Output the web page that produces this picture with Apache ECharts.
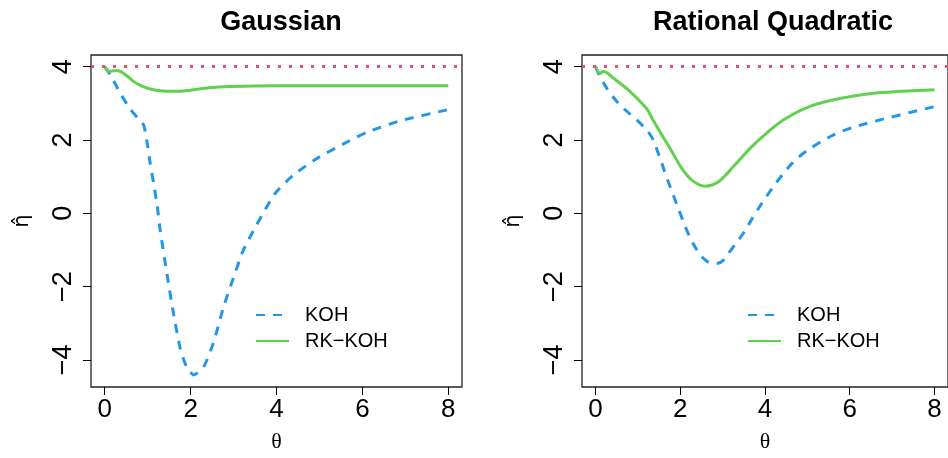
<!DOCTYPE html>
<html>
<head>
<meta charset="utf-8">
<script src="https://cdn.jsdelivr.net/npm/echarts@6/dist/echarts.min.js"></script>
<style>
  html, body { margin: 0; padding: 0; background: #fff; }
  #chart { width: 948px; height: 458px; }
</style>
</head>
<body>
<div id="chart"></div>
<script>
// panel titles and tick values
var titles = ['Gaussian', 'Rational Quadratic']
var xTicks = [0, 2, 4, 6, 8]
var yTicks = [-4, -2, 0, 2, 4]
var refLine = 4

// Gaussian panel, KOH (dashed blue)
var gaussKohX = [0, 0.13, 0.36, 0.6, 0.83, 0.91, 0.98, 1.06, 1.14, 1.22, 1.29, 1.45, 1.6, 1.76, 1.91, 2.07, 2.3, 2.53, 2.76, 3.0, 3.23, 3.54, 3.81, 4.0, 4.39, 4.93, 5.55, 6.1, 6.87, 8]
var gaussKohY = [4, 3.78, 3.28, 2.83, 2.52, 2.4, 1.98, 1.35, 0.8, 0.23, -0.45, -1.66, -2.73, -3.7, -4.2, -4.41, -4.2, -3.54, -2.58, -1.75, -1.0, -0.31, 0.25, 0.59, 1.04, 1.49, 1.89, 2.21, 2.52, 2.83]
// Gaussian panel, RK-KOH (solid green)
var gaussRkX = [0, 0.09, 0.2, 0.29, 0.4, 0.55, 0.67, 0.82, 0.98, 1.2, 1.45, 1.76, 2.0, 2.38, 2.92, 4.08, 5, 6, 7, 8]
var gaussRkY = [4, 3.87, 3.89, 3.9, 3.85, 3.72, 3.6, 3.5, 3.42, 3.36, 3.33, 3.33, 3.36, 3.42, 3.46, 3.48, 3.48, 3.48, 3.48, 3.48]

// Rational quadratic panel, KOH
var ratKohX = [0, 0.07, 0.3, 0.61, 1.0, 1.31, 1.5, 1.66, 1.85, 2.01, 2.2, 2.43, 2.62, 2.78, 2.95, 3.21, 3.52, 3.75, 4.06, 4.37, 4.75, 5.3, 5.84, 6.62, 8]
var ratKohY = [4, 3.82, 3.35, 2.92, 2.52, 2.11, 1.58, 1.04, 0.45, -0.04, -0.58, -1.07, -1.3, -1.37, -1.34, -0.98, -0.49, -0.04, 0.5, 0.99, 1.49, 1.94, 2.25, 2.52, 2.91]
// Rational quadratic panel, RK-KOH
var ratRkX = [0, 0.11, 0.19, 0.42, 0.81, 1.19, 1.27, 1.35, 1.58, 1.81, 2.04, 2.28, 2.59, 2.9, 3.28, 3.67, 4.06, 4.45, 5.06, 5.84, 6.62, 8]
var ratRkY = [4, 3.82, 3.87, 3.69, 3.33, 2.88, 2.74, 2.56, 2.11, 1.67, 1.22, 0.9, 0.74, 0.86, 1.31, 1.8, 2.21, 2.56, 2.92, 3.15, 3.28, 3.37]

var names = ['KOH', 'RK\u2212KOH']
var blue = '#2297E6'
var green = '#61D04F'
var red = '#DF536B'
var font = 'Liberation Sans, Arial, sans-serif'

const zip = (xs, ys) => xs.map((x, i) => [x, ys[i]])
const minus = v => v < 0 ? '\u2212' + Math.abs(v) : String(v)

var gridLeft = [91, 582]
var legendLeft = [250, 742]
var titleCenter = [276, 768]

var grids = [], xAxes = [], yAxes = [], series = [], legends = [], titleList = []

for (let i = 0; i < 2; i++) {
  grids.push({
    left: gridLeft[i], top: 55, width: i === 0 ? 371 : 369, height: 337,
    show: true, borderColor: '#222', borderWidth: 1.3, backgroundColor: 'transparent'
  })
  xAxes.push({
    type: 'value', gridIndex: i, min: -0.32, max: 8.32,
    name: '\u03b8', nameLocation: 'middle', nameGap: 44,
    nameTextStyle: { fontFamily: 'Liberation Serif, serif', fontSize: 22, color: '#000' },
    axisLine: { show: false, onZero: false },
    axisTick: { show: true, inside: false, length: 8, customValues: xTicks, lineStyle: { color: '#000', width: 1 } },
    axisLabel: { customValues: xTicks, fontFamily: font, fontSize: 26, color: '#000', margin: 10 },
    splitLine: { show: false }
  })
  yAxes.push({
    type: 'value', gridIndex: i, min: -4.74, max: 4.32,
    name: '\u03b7\u0302', nameLocation: 'middle', nameGap: 58, nameRotate: 90,
    nameTextStyle: { fontFamily: 'DejaVu Sans, sans-serif', fontSize: 21, color: '#000' },
    axisLine: { show: false, onZero: false },
    axisTick: { show: true, inside: false, length: 8, customValues: yTicks, lineStyle: { color: '#000', width: 1 } },
    axisLabel: { customValues: yTicks, rotate: 90, fontFamily: font, fontSize: 27, color: '#000', margin: 14, formatter: minus },
    splitLine: { show: false }
  })
  titleList.push({
    text: titles[i], left: titleCenter[i], top: 4, textAlign: 'center',
    textStyle: { fontFamily: font, fontSize: 27, fontWeight: 'bold', color: '#000' }
  })
  legends.push({
    data: names, orient: 'vertical', left: legendLeft[i], top: 300,
    itemWidth: 33, itemHeight: 14, itemGap: 6,
    itemStyle: { color: 'transparent', borderColor: 'transparent', borderWidth: 0, opacity: 0 },
    textStyle: { fontFamily: font, fontSize: 20, color: '#000', padding: [0, 0, 0, 11] },
    selectedMode: false
  })
}

var kohData = [zip(gaussKohX, gaussKohY), zip(ratKohX, ratKohY)]
var rkData = [zip(gaussRkX, gaussRkY), zip(ratRkX, ratRkY)]
var smoothKoh = [0.2, 0.35]
var smoothRk = [0.35, 0.35]

for (let i = 0; i < 2; i++) {
  series.push({
    name: names[0], type: 'line', xAxisIndex: i, yAxisIndex: i,
    data: kohData[i], smooth: smoothKoh[i], showSymbol: false, symbol: 'none',
    lineStyle: { color: blue, width: 3, type: [9, 8] }, itemStyle: { color: blue },
    markLine: {
      silent: true, symbol: 'none', label: { show: false },
      lineStyle: { color: red, width: 3, type: [3, 8] },
      data: [{ yAxis: refLine }]
    },
    z: 3
  })
  series.push({
    name: names[1], type: 'line', xAxisIndex: i, yAxisIndex: i,
    data: rkData[i], smooth: smoothRk[i], showSymbol: false, symbol: 'none',
    lineStyle: { color: green, width: 3 }, itemStyle: { color: green },
    z: 4
  })
}

var chart = echarts.init(document.getElementById('chart'), null, { renderer: 'canvas' })
chart.setOption({
  animation: false,
  backgroundColor: '#fff',
  title: titleList,
  legend: legends,
  grid: grids,
  xAxis: xAxes,
  yAxis: yAxes,
  series: series
})
</script>
</body>
</html>
